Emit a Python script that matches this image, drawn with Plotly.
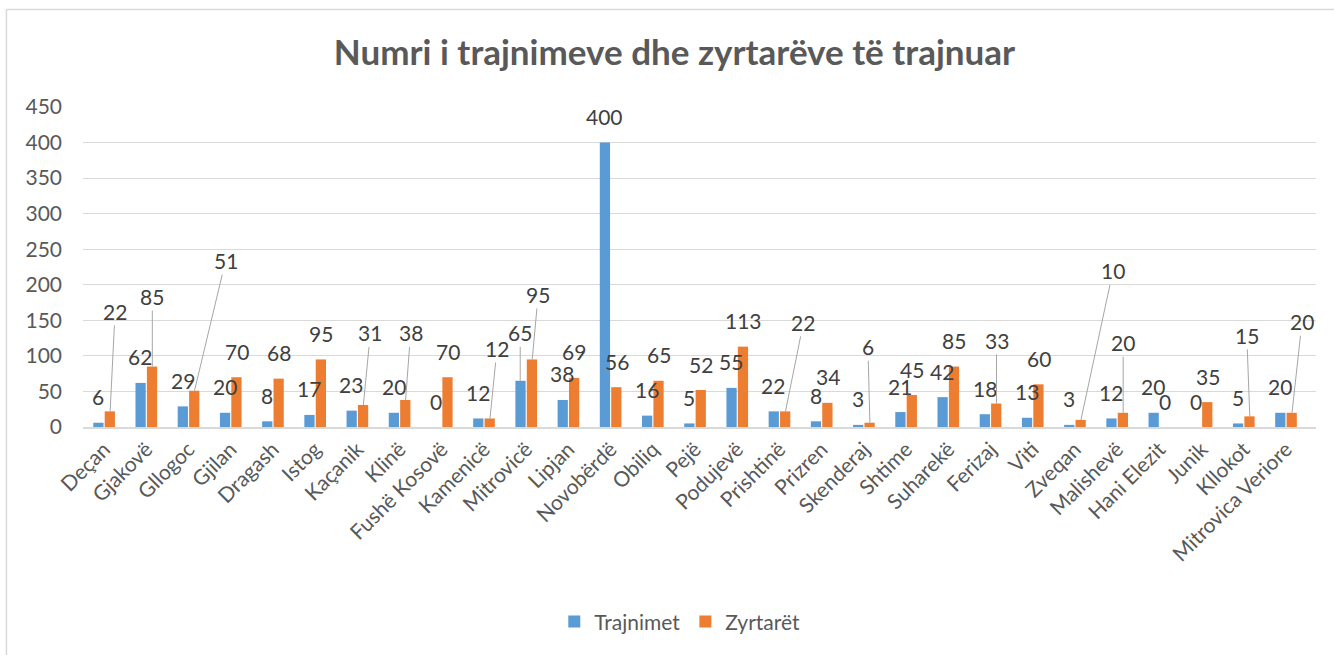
import plotly.graph_objects as go

categories = ["Deçan", "Gjakovë", "Gllogoc", "Gjilan", "Dragash", "Istog", "Kaçanik", "Klinë",
              "Fushë Kosovë", "Kamenicë", "Mitrovicë", "Lipjan", "Novobërdë", "Obiliq", "Pejë",
              "Podujevë", "Prishtinë", "Prizren", "Skenderaj", "Shtime", "Suharekë", "Ferizaj",
              "Viti", "Zveqan", "Malishevë", "Hani Elezit", "Junik", "Kllokot", "Mitrovica Veriore"]
trajnimet = [6, 62, 29, 20, 8, 17, 23, 20, 0, 12, 65, 38, 400, 16, 5, 55, 22, 8, 3, 21, 42, 18, 13, 3, 12, 20, 0, 5, 20]
zyrtaret = [22, 85, 51, 70, 68, 95, 31, 38, 70, 12, 95, 69, 56, 65, 52, 113, 22, 34, 6, 45, 85, 33, 60, 10, 20, 0, 35, 15, 20]
y_ticks = [0, 50, 100, 150, 200, 250, 300, 350, 400, 450]

series = [("Trajnimet", trajnimet, "#5b9bd5"), ("Zyrtarët", zyrtaret, "#ed7d31")]

# label offsets (pixels) for labels drawn with leader lines
leader = {
    ("Zyrtarët", "Deçan"): (5, -100),
    ("Zyrtarët", "Gjakovë"): (0, -70),
    ("Zyrtarët", "Gllogoc"): (31, -130),
    ("Zyrtarët", "Kaçanik"): (7, -72),
    ("Zyrtarët", "Klinë"): (5, -67),
    ("Zyrtarët", "Kamenicë"): (7, -70),
    ("Trajnimet", "Mitrovicë"): (0, -48),
    ("Zyrtarët", "Mitrovicë"): (6, -65),
    ("Zyrtarët", "Prishtinë"): (18, -89),
    ("Zyrtarët", "Skenderaj"): (-2, -76),
    ("Zyrtarët", "Ferizaj"): (0, -63),
    ("Zyrtarët", "Zveqan"): (32, -149),
    ("Zyrtarët", "Malishevë"): (0, -70),
    ("Zyrtarët", "Kllokot"): (-3, -81),
    ("Zyrtarët", "Mitrovica Veriore"): (10, -91),
}

FONT = "Lato"
fig = go.Figure()
for name, vals, col in series:
    fig.add_bar(name=name, x=categories, y=vals, marker=dict(color=col, line=dict(width=0)))

annotations = []
for si, (name, vals, col) in enumerate(series):
    xs = -6 if si == 0 else 6
    for c, v in zip(categories, vals):
        base = dict(x=c, y=v, text=str(v), xshift=xs,
                    font=dict(family=FONT, size=21, color="#404040"))
        if (name, c) in leader:
            ax, ay = leader[(name, c)]
            base.update(showarrow=True, arrowhead=0, arrowwidth=1, arrowcolor="#a6a6a6",
                        ax=ax, ay=ay, standoff=0)
        else:
            base.update(showarrow=False, yshift=26)
        annotations.append(base)

fig.update_layout(
    width=1334, height=655,
    margin=dict(l=83, r=18, t=107, b=228),
    paper_bgcolor="white", plot_bgcolor="white",
    barmode="group", bargap=0.46, bargroupgap=0.1,
    title=dict(text="<b>Numri i trajnimeve dhe zyrtarëve të trajnuar</b>",
               x=0.5056, xref="container", xanchor="center",
               y=1 - 53 / 655, yref="container", yanchor="middle",
               font=dict(family=FONT, size=35, color="#595959")),
    font=dict(family=FONT, color="#595959"),
    legend=dict(orientation="h", x=0.484, xanchor="center", y=-0.609, yanchor="middle",
                font=dict(family=FONT, size=21, color="#595959")),
    annotations=annotations,
    shapes=[
        dict(type="line", xref="paper", yref="paper", x0=-0.0621, x1=-0.0621, y0=1.3047, y1=-0.75,
             line=dict(color="#d9d9d9", width=1.5)),
        dict(type="line", xref="paper", yref="paper", x0=-0.0621, x1=1.03, y0=1.3047, y1=1.3047,
             line=dict(color="#d9d9d9", width=1.5)),
    ],
)
fig.update_yaxes(range=[0, 450], tickvals=y_ticks, showgrid=True, gridcolor="#d9d9d9", gridwidth=1,
                 zeroline=False, showline=False, ticks="", ticklabelstandoff=20,
                 tickfont=dict(family=FONT, size=21, color="#595959"))
fig.update_xaxes(tickangle=-45, showline=True, linecolor="#d9d9d9", linewidth=1.5, ticks="",
                 tickfont=dict(family=FONT, size=21, color="#595959"))

fig.write_html("out.html", config={"displayModeBar": False},
               post_script="document.body.style.margin='0';document.body.style.overflow='hidden';")
